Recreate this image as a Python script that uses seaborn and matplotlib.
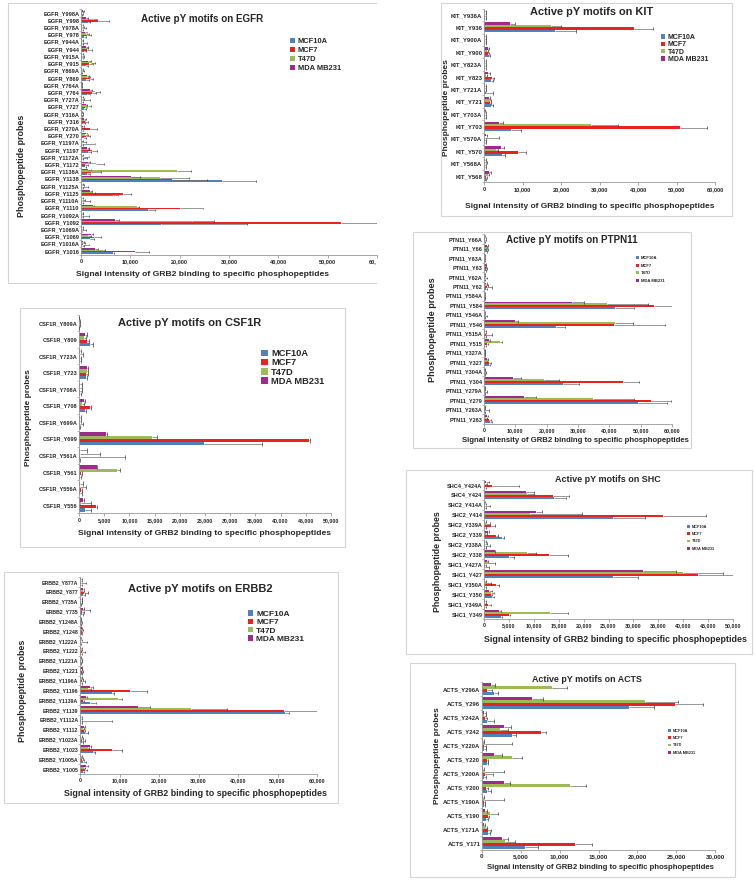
import numpy as np
import pandas as pd
import matplotlib
matplotlib.use("Agg")
import matplotlib.pyplot as plt
import seaborn as sns
from matplotlib.patches import Patch, Rectangle
from matplotlib.lines import Line2D
from matplotlib.transforms import Bbox, TransformedBbox

# ---------------------------------------------------------------- data
series = ["MCF10A", "MCF7", "T47D", "MDA MB231"]

egfr_probes = ["EGFR_Y998A", "EGFR_Y998", "EGFR_Y978A", "EGFR_Y978", "EGFR_Y944A", "EGFR_Y944",
               "EGFR_Y915A", "EGFR_Y915", "EGFR_Y869A", "EGFR_Y869", "EGFR_Y764A", "EGFR_Y764",
               "EGFR_Y727A", "EGFR_Y727", "EGFR_Y316A", "EGFR_Y316", "EGFR_Y270A", "EGFR_Y270",
               "EGFR_Y1197A", "EGFR_Y1197", "EGFR_Y1172A", "EGFR_Y1172", "EGFR_Y1138A", "EGFR_Y1138",
               "EGFR_Y1125A", "EGFR_Y1125", "EGFR_Y1110A", "EGFR_Y1110", "EGFR_Y1092A", "EGFR_Y1092",
               "EGFR_Y1069A", "EGFR_Y1069", "EGFR_Y1016A", "EGFR_Y1016"]
egfr_mcf10a = [200, 1400, 200, 700, 200, 700, 200, 1000, 200, 1100, 150, 1300, 200, 700, 150, 500, 300,
               700, 200, 1500, 200, 800, 1300, 28500, 200, 6500, 200, 13500, 200, 16300, 200, 1800, 300, 6500]
egfr_mcf7 = [300, 3500, 300, 1300, 300, 1300, 300, 1600, 300, 1800, 200, 2200, 300, 800, 200, 800, 1800,
             1000, 300, 2300, 300, 900, 2000, 18500, 300, 8500, 300, 20000, 300, 52700, 300, 2600, 500, 10900]
egfr_t47d = [300, 2400, 300, 1100, 200, 900, 300, 2000, 300, 1300, 200, 2800, 300, 1500, 200, 600, 400,
             900, 400, 1200, 400, 3000, 19400, 16100, 300, 2400, 300, 11400, 200, 22400, 200, 1500, 500, 4500]
egfr_mda = [400, 1100, 200, 900, 300, 1000, 200, 1500, 200, 1200, 200, 1800, 300, 1000, 200, 700, 400,
            1000, 300, 1200, 300, 1400, 1400, 10100, 300, 1800, 300, 2400, 200, 6800, 200, 2100, 400, 2800]
egfr_err_mcf10a = [100, 500, 200, 400, 200, 400, 200, 500, 100, 500, 100, 600, 200, 300, 100, 300, 200,
                   300, 200, 600, 300, 300, 600, 7000, 200, 1000, 200, 1500, 200, 17300, 100, 800, 300, 200]
egfr_err_mcf7 = [200, 2200, 700, 700, 900, 900, 300, 800, 300, 700, 100, 900, 1500, 500, 300, 600, 1500,
                 900, 2500, 1000, 1000, 500, 2000, 7000, 1200, 1700, 1500, 4700, 1300, 8000, 700, 1400, 1200, 2800]
egfr_err_t47d = [200, 800, 300, 600, 300, 500, 300, 800, 200, 600, 100, 1000, 300, 600, 200, 300, 300,
                 500, 600, 500, 1200, 1700, 2900, 5700, 400, 400, 500, 300, 300, 4600, 300, 500, 400, 300]
egfr_err_mda = [300, 400, 200, 300, 200, 400, 200, 500, 200, 400, 100, 500, 200, 300, 100, 300, 200,
                300, 200, 400, 200, 400, 600, 1800, 200, 400, 200, 300, 200, 900, 200, 400, 200, 600]

kit_probes = ["KIT_Y936A", "KIT_Y936", "KIT_Y900A", "KIT_Y900", "KIT_Y823A", "KIT_Y823", "KIT_Y721A",
              "KIT_Y721", "KIT_Y703A", "KIT_Y703", "KIT_Y570A", "KIT_Y570", "KIT_Y568A", "KIT_Y568"]
kit_mcf10a = [200, 18500, 200, 1200, 200, 1700, 400, 1700, 200, 7000, 300, 4700, 300, 400]
kit_mcf7 = [300, 39000, 300, 1000, 300, 2000, 200, 1500, 300, 50900, 300, 8800, 300, 600]
kit_t47d = [300, 17500, 300, 700, 300, 600, 300, 1500, 300, 27700, 300, 3200, 300, 1000]
kit_mda = [300, 6700, 300, 1000, 300, 1000, 200, 1300, 200, 4000, 600, 4500, 300, 1300]
kit_err_mcf10a = [200, 5500, 200, 300, 200, 600, 1900, 700, 200, 2500, 200, 800, 200, 200]
kit_err_mcf7 = [200, 5000, 300, 300, 300, 500, 200, 400, 200, 7100, 300, 2000, 300, 200]
kit_err_t47d = [300, 2600, 300, 300, 300, 300, 200, 400, 200, 7000, 3700, 400, 600, 300]
kit_err_mda = [200, 1300, 200, 300, 200, 500, 200, 300, 100, 1000, 200, 600, 200, 400]

csf1r_probes = ["CSF1R_Y809A", "CSF1R_Y809", "CSF1R_Y723A", "CSF1R_Y723", "CSF1R_Y708A", "CSF1R_Y708",
                "CSF1R_Y699A", "CSF1R_Y699", "CSF1R_Y561A", "CSF1R_Y561", "CSF1R_Y556A", "CSF1R_Y556"]
csf1r_mcf10a = [50, 2200, 100, 1300, 100, 1100, 100, 24800, 100, 200, 200, 1200]
csf1r_mcf7 = [80, 1500, 100, 1400, 100, 2200, 100, 45700, 200, 400, 300, 3400]
csf1r_t47d = [80, 900, 150, 1500, 150, 500, 100, 14500, 200, 7500, 200, 300]
csf1r_mda = [50, 1200, 100, 1500, 100, 900, 150, 5300, 200, 3500, 200, 700]
csf1r_err_mcf10a = [30, 600, 200, 300, 300, 200, 100, 11600, 100, 100, 300, 1200]
csf1r_err_mcf7 = [50, 400, 300, 300, 400, 100, 700, 100, 8900, 100, 300, 200]
csf1r_err_t47d = [50, 400, 700, 300, 400, 400, 300, 900, 4000, 600, 1200, 2000]
csf1r_err_mda = [30, 400, 300, 200, 400, 200, 200, 200, 1400, 100, 600, 200]

ptpn11_probes = ["PTN11_Y66A", "PTN11_Y66", "PTN11_Y63A", "PTN11_Y63", "PTN11_Y62A", "PTN11_Y62",
                 "PTN11_Y584A", "PTN11_Y584", "PTN11_Y546A", "PTN11_Y546", "PTN11_Y515A", "PTN11_Y515",
                 "PTN11_Y327A", "PTN11_Y327", "PTN11_Y304A", "PTN11_Y304", "PTN11_Y279A", "PTN11_Y279",
                 "PTN11_Y263A", "PTN11_Y263"]
ptpn11_mcf10a = [200, 900, 200, 500, 100, 700, 200, 41800, 200, 22900, 300, 300, 200, 1500, 200, 25200,
                 200, 49200, 200, 2000]
ptpn11_mcf7 = [300, 1000, 200, 600, 200, 800, 200, 54300, 300, 41500, 500, 1000, 200, 1700, 300, 44400,
               300, 53400, 200, 1500]
ptpn11_t47d = [300, 800, 200, 500, 100, 600, 200, 39100, 200, 41800, 300, 5200, 200, 800, 200, 19000,
               200, 34900, 200, 600]
ptpn11_mda = [300, 1000, 200, 500, 100, 600, 200, 28000, 200, 9800, 300, 1700, 200, 1000, 200, 9200,
              200, 12900, 200, 900]
ptpn11_err_mcf10a = [100, 200, 100, 200, 100, 300, 100, 6100, 200, 3000, 200, 200, 100, 500, 100, 5100,
                     100, 9300, 100, 500]
ptpn11_err_mcf7 = [200, 300, 200, 200, 800, 1700, 200, 5700, 500, 16200, 2200, 300, 200, 600, 200, 5000,
                   500, 6200, 1300, 700]
ptpn11_err_t47d = [200, 200, 200, 200, 200, 600, 200, 13300, 200, 5800, 300, 700, 100, 300, 200, 5000,
                   200, 13000, 200, 300]
ptpn11_err_mda = [100, 200, 100, 200, 100, 300, 100, 3800, 100, 1000, 200, 300, 100, 200, 100, 2700,
                  100, 3600, 100, 300]

erbb2_probes = ["ERBB2_Y877A", "ERBB2_Y877", "ERBB2_Y735A", "ERBB2_Y735", "ERBB2_Y1248A", "ERBB2_Y1248",
                "ERBB2_Y1222A", "ERBB2_Y1222", "ERBB2_Y1221A", "ERBB2_Y1221", "ERBB2_Y1196A", "ERBB2_Y1196",
                "ERBB2_Y1139A", "ERBB2_Y1139", "ERBB2_Y1112A", "ERBB2_Y1112", "ERBB2_Y1023A", "ERBB2_Y1023",
                "ERBB2_Y1005A", "ERBB2_Y1005"]
erbb2_mcf10a = [200, 800, 200, 500, 200, 400, 200, 300, 200, 400, 300, 8000, 2500, 52000, 200, 1300, 400,
                3400, 800, 800]
erbb2_mcf7 = [300, 900, 200, 600, 200, 400, 200, 400, 200, 400, 400, 12700, 800, 51600, 300, 1000, 500,
              8000, 600, 1300]
erbb2_t47d = [200, 700, 200, 1300, 200, 500, 300, 400, 200, 300, 400, 2100, 9700, 28000, 200, 800, 400,
              1900, 400, 900]
erbb2_mda = [200, 800, 300, 800, 200, 400, 200, 300, 200, 400, 300, 2500, 1500, 14800, 200, 900, 300,
             2500, 300, 1500]
erbb2_err_mcf10a = [200, 400, 100, 200, 100, 200, 100, 200, 100, 200, 200, 500, 1500, 800, 300, 600, 300,
                    400, 700, 300]
erbb2_err_mcf7 = [1200, 1000, 300, 300, 200, 200, 1600, 900, 300, 300, 800, 4200, 300, 8400, 7800, 300,
                  700, 2600, 300, 400]
erbb2_err_t47d = [200, 300, 200, 1200, 100, 200, 200, 200, 200, 200, 300, 600, 900, 9200, 300, 300, 300,
                  300, 300, 400]
erbb2_err_mda = [200, 300, 200, 300, 100, 200, 100, 200, 100, 100, 200, 700, 300, 3000, 200, 300, 200,
                 200, 200, 500]

shc_probes = ["SHC4_Y424A", "SHC4_Y424", "SHC2_Y414A", "SHC2_Y414", "SHC2_Y339A", "SHC2_Y339",
              "SHC2_Y338A", "SHC2_Y338", "SHC1_Y427A", "SHC1_Y427", "SHC1_Y350A", "SHC1_Y350",
              "SHC1_Y349A", "SHC1_Y349"]
shc_mcf10a = [200, 14000, 200, 25900, 300, 3700, 200, 5000, 300, 25900, 300, 1700, 300, 3500]
shc_mcf7 = [1700, 13800, 200, 36000, 1500, 2500, 300, 13000, 200, 43000, 2500, 1400, 900, 5000]
shc_t47d = [300, 8700, 200, 9200, 500, 500, 300, 8600, 900, 40000, 500, 1500, 300, 13200]
shc_mda = [500, 8500, 200, 10500, 300, 900, 300, 2200, 700, 32000, 300, 1100, 300, 3000]
shc_err_mcf10a = [200, 2500, 200, 6400, 200, 300, 200, 1000, 700, 5100, 200, 300, 200, 200]
shc_err_mcf7 = [5300, 3300, 1000, 8600, 700, 300, 900, 3800, 200, 7000, 500, 200, 500, 200]
shc_err_t47d = [300, 1300, 200, 10400, 700, 200, 300, 1800, 1300, 8000, 900, 500, 200, 3700]
shc_err_mda = [500, 1500, 100, 1200, 200, 200, 200, 100, 200, 6500, 200, 600, 200, 500]

acts_probes = ["ACTS_Y296A", "ACTS_Y296", "ACTS_Y242A", "ACTS_Y242", "ACTS_Y220A", "ACTS_Y220",
               "ACTS_Y200A", "ACTS_Y200", "ACTS_Y190A", "ACTS_Y190", "ACTS_Y171A", "ACTS_Y171"]
acts_mcf10a = [1600, 18900, 600, 3900, 300, 600, 300, 600, 200, 550, 750, 5500]
acts_mcf7 = [650, 24900, 400, 7600, 300, 600, 450, 550, 200, 750, 800, 12000]
acts_t47d = [9000, 21000, 200, 2300, 400, 3900, 300, 11300, 200, 1000, 400, 2900]
acts_mda = [1200, 6500, 200, 2800, 150, 1600, 150, 2800, 150, 450, 300, 2600]
acts_err_mcf10a = [500, 3200, 900, 500, 200, 200, 200, 500, 200, 200, 300, 1700]
acts_err_mcf7 = [650, 3500, 300, 700, 200, 200, 950, 250, 200, 200, 400, 2100]
acts_err_t47d = [2000, 4300, 300, 1100, 3400, 1300, 2500, 2100, 2600, 1100, 300, 1300]
acts_err_mda = [500, 1400, 300, 900, 100, 1000, 100, 800, 100, 150, 100, 700]

# ---------------------------------------------------------------- style
W, H = 755, 880
colors = {"MCF10A": "#4F81BD", "MCF7": "#E8231F", "T47D": "#9BBB59", "MDA MB231": "#9E2A8E"}
sns.set_theme(style="ticks")
plt.rcParams["font.family"] = ["Liberation Sans", "DejaVu Sans"]
plt.rcParams["font.weight"] = "bold"

fig = plt.figure(figsize=(W / 100, H / 100), dpi=100)
fig.patch.set_facecolor("white")


def fx(x):
    return x / W


def fy(y):
    return 1 - y / H


def draw_panel(name, probes, vals, errs, L):
    df = pd.DataFrame(
        [(p, s, v) for s in series for p, v in zip(probes, vals[s])],
        columns=["probe", "series", "value"],
    )
    x0, x1, yt, yb = L["ax"]
    ax = fig.add_axes([fx(x0), fy(yb), fx(x1 - x0), (yb - yt) / H])
    hue_order = series[::-1]
    sns.barplot(data=df, y="probe", x="value", hue="series", order=probes,
                hue_order=hue_order, palette=colors, orient="h", errorbar=None,
                width=0.8, saturation=1, linewidth=0, legend=False, ax=ax)
    # positive error bars from the drawn bars
    for cont, s in zip(ax.containers, hue_order):
        xs, ys, es = [], [], []
        for bar in cont:
            yc = bar.get_y() + bar.get_height() / 2
            idx = int(round(yc))
            xs.append(bar.get_width())
            ys.append(yc)
            es.append(errs[s][idx])
        xs, ys, es = np.array(xs), np.array(ys), np.array(es)
        ax.hlines(ys, xs, xs + es, color="#6d6d6d", lw=0.5, zorder=3)
        ax.vlines(xs + es, ys - 0.13, ys + 0.13, color="#3a3a3a", lw=0.5, zorder=3)
    n = len(probes)
    ax.set_ylim(n - 0.5, -0.5)
    ax.set_xlim(0, L["xmax"])
    ticks = np.arange(0, L["xmax"] + 1, L["step"])
    ax.set_xticks(ticks, [f"{t:,.0f}" for t in ticks])
    ax.set_xlabel("")
    ax.set_ylabel("")
    ax.tick_params(axis="x", labelsize=L["xt"], length=2, width=0.5, pad=1.2, color="#888888")
    ax.tick_params(axis="y", labelsize=L["yt"], length=0, pad=1.2)
    ax.set_yticks(np.arange(n + 1) - 0.5, minor=True)
    ax.tick_params(axis="y", which="minor", length=1.5, width=0.4, color="#888888")
    for lbl in ax.get_xticklabels() + ax.get_yticklabels():
        lbl.set_fontweight("bold")
    for sp in ["top", "right"]:
        ax.spines[sp].set_visible(False)
    for sp in ["left", "bottom"]:
        ax.spines[sp].set_color("#999999")
        ax.spines[sp].set_linewidth(0.6)
    ax.set_facecolor("none")

    # frame
    f0, f1, g0, g1, open_right = L["frame"]
    if open_right:
        fig.add_artist(Line2D([fx(f1), fx(f0), fx(f0), fx(f1)], [fy(g0), fy(g0), fy(g1), fy(g1)],
                              transform=fig.transFigure, color="#d4d4d4", lw=0.8))
    else:
        fig.add_artist(Rectangle((fx(f0), fy(g1)), fx(f1 - f0), (g1 - g0) / H, fill=False,
                                 transform=fig.transFigure, ec="#d4d4d4", lw=0.8))
    tx, ty, ts = L["title"]
    fig.text(fx(tx), fy(ty), f"Active pY motifs on {name}", ha="center", va="center",
             fontsize=ts, fontweight="bold")
    lx, ly, ls = L["xlabel"]
    fig.text(fx(lx), fy(ly), "Signal intensity of GRB2 binding to specific phosphopeptides",
             ha="center", va="center", fontsize=ls, fontweight="bold")
    vx, vy, vs = L["ylabel"]
    fig.text(fx(vx), fy(vy), "Phosphopeptide probes", ha="center", va="center", rotation=90,
             fontsize=vs, fontweight="bold")
    # legend
    gx, gy, gs, side, spacing = L["leg"]
    fpx = gs * 100 / 72
    handles = [Patch(facecolor=colors[s], edgecolor="none", label=s) for s in series]
    fig.legend(handles=handles, loc="center left", bbox_to_anchor=(fx(gx), fy(gy)),
               bbox_transform=fig.transFigure, frameon=False, borderpad=0, borderaxespad=0,
               prop={"size": gs, "weight": "bold"}, handlelength=side / fpx,
               handleheight=side / fpx, handletextpad=0.4,
               labelspacing=max(spacing - 1.15 * fpx, 0) / fpx)
    return ax


panels = [
    ("EGFR", egfr_probes,
     [egfr_mcf10a, egfr_mcf7, egfr_t47d, egfr_mda],
     [egfr_err_mcf10a, egfr_err_mcf7, egfr_err_t47d, egfr_err_mda],
     dict(ax=(81, 377, 9.4, 254.6), xmax=60000, step=10000, frame=(8, 376, 3, 283, True),
          title=(202, 19, 7.1), xlabel=(203, 275, 6.1), ylabel=(22, 166, 6.4),
          leg=(290, 54.8, 5.4, 4.7, 10.5), xt=4.0, yt=4.05)),
    ("KIT", kit_probes,
     [kit_mcf10a, kit_mcf7, kit_t47d, kit_mda],
     [kit_err_mcf10a, kit_err_mcf7, kit_err_t47d, kit_err_mda],
     dict(ax=(484, 715, 8.8, 182.2), xmax=60000, step=10000, frame=(441, 732, 3, 216, False),
          title=(592, 12, 7.9), xlabel=(590, 206, 6.0), ylabel=(447, 108, 6.0),
          leg=(661, 48.5, 5.0, 4.0, 8.3), xt=4.1, yt=4.3)),
    ("CSF1R", csf1r_probes,
     [csf1r_mcf10a, csf1r_mcf7, csf1r_t47d, csf1r_mda],
     [csf1r_err_mcf10a, csf1r_err_mcf7, csf1r_err_t47d, csf1r_err_mda],
     dict(ax=(79, 331, 314.7, 513.3), xmax=50000, step=5000, frame=(20, 345, 308, 547, False),
          title=(190, 323, 8.0), xlabel=(205, 533, 6.1), ylabel=(28, 418, 6.0),
          leg=(261, 367.5, 6.7, 6.5, 11.0), xt=3.8, yt=4.1)),
    ("PTPN11", ptpn11_probes,
     [ptpn11_mcf10a, ptpn11_mcf7, ptpn11_t47d, ptpn11_mda],
     [ptpn11_err_mcf10a, ptpn11_err_mcf7, ptpn11_err_t47d, ptpn11_err_mda],
     dict(ax=(484, 672, 234.3, 423.7), xmax=60000, step=10000, frame=(413, 691, 232, 448, False),
          title=(572, 240, 7.15), xlabel=(575, 440, 5.6), ylabel=(433, 330, 6.6),
          leg=(636, 269.5, 3.0, 3.3, 8.3), xt=3.9, yt=4.0)),
    ("ERBB2", erbb2_probes,
     [erbb2_mcf10a, erbb2_mcf7, erbb2_t47d, erbb2_mda],
     [erbb2_err_mcf10a, erbb2_err_mcf7, erbb2_err_t47d, erbb2_err_mda],
     dict(ax=(80, 317, 577, 774), xmax=60000, step=10000, frame=(4, 338, 572, 803, False),
          title=(200, 589, 8.0), xlabel=(195, 793, 6.4), ylabel=(23, 691, 6.4),
          leg=(248, 626.6, 6.0, 5.0, 10.4), xt=3.9, yt=3.8)),
    ("SHC", shc_probes,
     [shc_mcf10a, shc_mcf7, shc_t47d, shc_mda],
     [shc_err_mcf10a, shc_err_mcf7, shc_err_t47d, shc_err_mda],
     dict(ax=(484, 733, 480, 619), xmax=50000, step=5000, frame=(406, 752, 470, 654, False),
          title=(608, 480, 6.45), xlabel=(615, 639, 6.4), ylabel=(437, 562, 6.3),
          leg=(687, 537.7, 2.8, 3.0, 7.8), xt=3.9, yt=4.0)),
    ("ACTS", acts_probes,
     [acts_mcf10a, acts_mcf7, acts_t47d, acts_mda],
     [acts_err_mcf10a, acts_err_mcf7, acts_err_t47d, acts_err_mda],
     dict(ax=(482, 715, 682, 850), xmax=30000, step=5000, frame=(410, 735, 663, 877, False),
          title=(587, 679, 6.4), xlabel=(600, 867, 5.6), ylabel=(437, 756, 6.0),
          leg=(668, 741.7, 2.8, 3.0, 7.8), xt=4.5, yt=4.2)),
]

axes = []
for name, probes, vlist, elist, L in panels:
    vals = dict(zip(series, vlist))
    errs = dict(zip(series, elist))
    axes.append(draw_panel(name, probes, vals, errs, L))

# the EGFR panel is cut at its right edge in the source figure
fig.canvas.draw()
clip = TransformedBbox(Bbox.from_extents(0, 0, fx(376), 1), fig.transFigure)
for lbl in axes[0].get_xticklabels():
    lbl.set_clip_box(clip)
    lbl.set_clip_on(True)

fig.savefig("out.png", dpi=100, facecolor="white")
